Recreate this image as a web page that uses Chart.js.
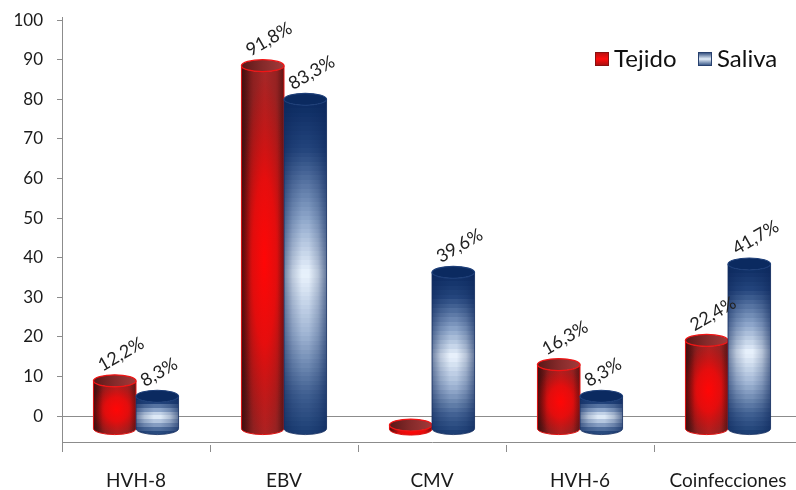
<!DOCTYPE html>
<html>
<head>
<meta charset="utf-8">
<script src="https://cdn.jsdelivr.net/npm/chart.js@4/dist/chart.umd.min.js"></script>
<style>
  html, body { margin: 0; padding: 0; background: #fff; width: 796px; height: 490px; overflow: hidden; }
  #wrap { width: 802px; height: 490px; }
</style>
</head>
<body>
<div id="wrap"><canvas id="chart" width="802" height="490"></canvas></div>
<script>
// Detección viral por tipo de muestra (%)
const categories = ['HVH-8', 'EBV', 'CMV', 'HVH-6', 'Coinfecciones'];
const seriesNames = ['Tejido', 'Saliva'];
const tejido = [12.2, 91.8, 0, 16.3, 22.4];
const saliva = [8.3, 83.3, 39.6, 8.3, 41.7];
const yTickValues = [0, 10, 20, 30, 40, 50, 60, 70, 80, 90, 100];

// Axis extents: the 3D floor sits a little below zero
const Y_MIN = -7.3;
const Y_MAX = 100.8;
const FLOOR = -6.6;

const FONT = 'Lato, "Open Sans", sans-serif';
const DEPTH = 13;   // downward shift of the cylinders (3D depth)
const RY = 6;       // vertical radius of the cylinder ellipses

function fmtPct(v) { return v.toFixed(1).replace('.', ',') + '%'; }

function hexToRgb(h) {
  const n = parseInt(h.slice(1), 16);
  return [(n >> 16) & 255, (n >> 8) & 255, n & 255];
}
function interpStops(stops, t) {
  for (let i = 0; i < stops.length - 1; i++) {
    const [t0, c0] = stops[i], [t1, c1] = stops[i + 1];
    if (t >= t0 && t <= t1) {
      const k = (t - t0) / (t1 - t0);
      const a = hexToRgb(c0), b = hexToRgb(c1);
      return 'rgb(' + a.map((v, j) => Math.round(v + (b[j] - v) * k)).join(',') + ')';
    }
  }
  return stops[stops.length - 1][1];
}
function bandedGradient(ctx, y0, y1, stops, bands) {
  const g = ctx.createLinearGradient(0, y0, 0, y1);
  for (let i = 0; i < bands; i++) {
    const t0 = i / bands, t1 = (i + 1) / bands;
    const col = interpStops(stops, (t0 + t1) / 2);
    g.addColorStop(t0, col);
    g.addColorStop(t1, col);
  }
  return g;
}

function sidePath(ctx, cx, rx, topY, botY, ry) {
  ctx.beginPath();
  ctx.moveTo(cx - rx, topY);
  ctx.lineTo(cx - rx, botY);
  ctx.ellipse(cx, botY, rx, ry, 0, Math.PI, 0, true);
  ctx.lineTo(cx + rx, topY);
  ctx.ellipse(cx, topY, rx, ry, 0, 0, Math.PI, false);
  ctx.closePath();
}

function drawRedCylinder(ctx, cx, w, topY, botY, ry) {
  const rx = w / 2, left = cx - rx;
  const h = botY - topY + ry;
  ctx.save();
  sidePath(ctx, cx, rx, topY, botY, ry);
  ctx.clip();
  // maroon body, darker at the left edge
  let g = ctx.createLinearGradient(left, 0, left + w, 0);
  g.addColorStop(0, '#4e1111');
  g.addColorStop(0.28, '#8e2020');
  g.addColorStop(0.55, '#a82626');
  g.addColorStop(0.8, '#982222');
  g.addColorStop(1, '#6e1a1a');
  ctx.fillStyle = g;
  ctx.fillRect(left - 2, topY - ry - 2, w + 4, h + ry + 6);
  // bright red glow around the middle
  const midY = topY + (botY + ry - topY) * 0.53;
  ctx.save();
  ctx.translate(cx + w * 0.04, midY);
  const R = w * 0.62;
  ctx.scale(1, Math.max(1, (h * 0.5) / R));
  const rg = ctx.createRadialGradient(0, 0, 0, 0, 0, R);
  rg.addColorStop(0, 'rgba(255,6,6,1)');
  rg.addColorStop(0.45, 'rgba(245,8,8,0.8)');
  rg.addColorStop(0.8, 'rgba(225,6,6,0.3)');
  rg.addColorStop(1, 'rgba(220,0,0,0)');
  ctx.fillStyle = rg;
  ctx.fillRect(-w, -R * 1.2, w * 2, R * 2.4);
  ctx.restore();
  // soft shading along both edges
  g = ctx.createLinearGradient(left, 0, left + w, 0);
  g.addColorStop(0, 'rgba(50,8,8,0.45)');
  g.addColorStop(0.22, 'rgba(50,8,8,0)');
  g.addColorStop(0.85, 'rgba(60,8,8,0)');
  g.addColorStop(1, 'rgba(60,8,8,0.3)');
  ctx.fillStyle = g;
  ctx.fillRect(left - 2, topY - ry - 2, w + 4, h + ry + 6);
  ctx.restore();
  // outline of the side
  ctx.save();
  ctx.strokeStyle = '#e01212';
  ctx.lineWidth = 1;
  ctx.beginPath();
  ctx.moveTo(cx - rx, topY);
  ctx.lineTo(cx - rx, botY);
  ctx.ellipse(cx, botY, rx, ry, 0, Math.PI, 0, true);
  ctx.lineTo(cx + rx, topY);
  ctx.stroke();
  // top face
  ctx.beginPath();
  ctx.ellipse(cx, topY, rx, ry, 0, 0, Math.PI * 2);
  g = ctx.createLinearGradient(left, 0, left + w, 0);
  g.addColorStop(0, '#5a1818');
  g.addColorStop(0.5, '#852a2a');
  g.addColorStop(1, '#a23a3a');
  ctx.fillStyle = g;
  ctx.fill();
  ctx.strokeStyle = '#f21414';
  ctx.lineWidth = 1.3;
  ctx.stroke();
  ctx.restore();
}

const BLUE_STOPS = [
  [0, '#0b2a60'], [0.15, '#23447c'], [0.35, '#8aa3c8'], [0.52, '#eaf3fd'],
  [0.7, '#9fb4d3'], [0.88, '#3f5f91'], [1, '#1a3c72']
];

function drawBlueCylinder(ctx, cx, w, topY, botY, ry) {
  const rx = w / 2, left = cx - rx;
  const h = botY - topY + ry;
  ctx.save();
  sidePath(ctx, cx, rx, topY, botY, ry);
  ctx.clip();
  const bands = Math.max(10, Math.round(h / 4.5));
  ctx.fillStyle = bandedGradient(ctx, topY, botY + ry, BLUE_STOPS, bands);
  ctx.fillRect(left - 2, topY - ry - 2, w + 4, h + ry + 6);
  const g = ctx.createLinearGradient(left, 0, left + w, 0);
  g.addColorStop(0, 'rgba(12,38,90,0.55)');
  g.addColorStop(0.2, 'rgba(12,38,90,0.2)');
  g.addColorStop(0.42, 'rgba(12,38,90,0.0)');
  g.addColorStop(0.58, 'rgba(12,38,90,0.0)');
  g.addColorStop(0.8, 'rgba(12,38,90,0.22)');
  g.addColorStop(1, 'rgba(12,38,90,0.6)');
  ctx.fillStyle = g;
  ctx.fillRect(left - 2, topY - ry - 2, w + 4, h + ry + 6);
  ctx.restore();
  ctx.save();
  ctx.strokeStyle = 'rgba(20,45,95,0.8)';
  ctx.lineWidth = 1;
  ctx.beginPath();
  ctx.moveTo(cx - rx, topY);
  ctx.lineTo(cx - rx, botY);
  ctx.ellipse(cx, botY, rx, ry, 0, Math.PI, 0, true);
  ctx.lineTo(cx + rx, topY);
  ctx.stroke();
  ctx.beginPath();
  ctx.ellipse(cx, topY, rx, ry, 0, 0, Math.PI * 2);
  ctx.fillStyle = '#0b2a60';
  ctx.fill();
  ctx.strokeStyle = '#1d3e78';
  ctx.lineWidth = 1.2;
  ctx.stroke();
  ctx.restore();
}

const cylinderPlugin = {
  id: 'cylinders',
  afterDatasetsDraw(chart) {
    const ctx = chart.ctx;
    chart.data.datasets.forEach((ds, di) => {
      const meta = chart.getDatasetMeta(di);
      meta.data.forEach((el, i) => {
        const p = el.getProps(['x', 'y', 'base', 'width'], true);
        const botY = p.base + DEPTH;
        const topY = Math.min(p.y + DEPTH, botY - 4);
        if (di === 0) drawRedCylinder(ctx, p.x, p.width, topY, botY, RY);
        else drawBlueCylinder(ctx, p.x, p.width, topY, botY, RY);
      });
    });
    // value labels, tilted
    ctx.save();
    ctx.font = '18px ' + FONT;
    ctx.fillStyle = '#222';
    ctx.textAlign = 'left';
    ctx.textBaseline = 'alphabetic';
    chart.data.datasets.forEach((ds, di) => {
      const meta = chart.getDatasetMeta(di);
      meta.data.forEach((el, i) => {
        const v = ds.data[i];
        if (!v) return;
        const p = el.getProps(['x', 'y', 'width'], true);
        const tx = p.x - p.width / 2 + 9;
        const ty = p.y + DEPTH - RY - 3;
        ctx.save();
        ctx.translate(tx, ty);
        ctx.rotate(-Math.PI / 6);
        ctx.fillText(fmtPct(v), 0, 0);
        ctx.restore();
      });
    });
    ctx.restore();
    // legend
    ctx.save();
    ctx.font = '24px ' + FONT;
    ctx.fillStyle = '#111';
    ctx.textBaseline = 'alphabetic';
    const items = [
      { x: 595, text: seriesNames[0], kind: 0 },
      { x: 698, text: seriesNames[1], kind: 1 }
    ];
    items.forEach(it => {
      const sy = 52, s = 14;
      let g = ctx.createLinearGradient(0, sy, 0, sy + s);
      if (it.kind === 0) {
        g.addColorStop(0, '#b01010'); g.addColorStop(0.5, '#ff0d0d'); g.addColorStop(1, '#a01010');
      } else {
        g.addColorStop(0, '#1d3c70'); g.addColorStop(0.5, '#e4eef9'); g.addColorStop(1, '#23457a');
      }
      ctx.fillStyle = g;
      ctx.fillRect(it.x, sy, s, s);
      ctx.strokeStyle = it.kind === 0 ? '#8a1010' : '#27406e';
      ctx.lineWidth = 1;
      ctx.strokeRect(it.x + 0.5, sy + 0.5, s - 1, s - 1);
      ctx.fillStyle = '#111';
      ctx.fillText(it.text, it.x + 19, 67);
    });
    ctx.restore();
  }
};

new Chart(document.getElementById('chart'), {
  type: 'bar',
  data: {
    labels: categories,
    datasets: [
      { label: seriesNames[0], data: tejido, backgroundColor: 'rgba(0,0,0,0)', borderWidth: 0 },
      { label: seriesNames[1], data: saliva, backgroundColor: 'rgba(0,0,0,0)', borderWidth: 0 }
    ]
  },
  options: {
    responsive: false,
    animation: false,
    events: [],
    layout: { padding: { top: 17, left: 0, right: 0, bottom: 0 } },
    datasets: { bar: { categoryPercentage: 0.575, barPercentage: 1 } },
    plugins: { legend: { display: false }, tooltip: { enabled: false } },
    scales: {
      x: {
        afterFit(scale) { scale.height = 45; scale.paddingLeft = 0; scale.paddingRight = 0; },
        border: { display: false },
        grid: { offset: true, drawOnChartArea: false, color: '#8c8c8c', tickLength: 7, lineWidth: 1 },
        ticks: { color: '#1a1a1a', font: { family: FONT, size: 19 }, padding: 17 }
      },
      y: {
        min: Y_MIN,
        max: Y_MAX,
        afterFit(scale) { scale.width = 62; scale.paddingTop = 0; scale.paddingBottom = 0; },
        afterBuildTicks(scale) {
          scale.ticks = [FLOOR].concat(yTickValues).map(v => ({ value: v }));
        },
        border: { display: true, color: '#8c8c8c', width: 1 },
        grid: {
          drawOnChartArea: true,
          tickLength: 5,
          color: ctx => (ctx.tick && (ctx.tick.value === 0 || ctx.tick.value === FLOOR)) ? '#8c8c8c' : 'rgba(0,0,0,0)',
          tickColor: ctx => (ctx.tick && ctx.tick.value !== FLOOR) ? '#8c8c8c' : 'rgba(0,0,0,0)'
        },
        ticks: {
          color: '#1a1a1a',
          font: { family: FONT, size: 17 },
          padding: 14,
          autoSkip: false,
          callback: v => (v === FLOOR ? '' : String(v))
        }
      }
    }
  },
  plugins: [cylinderPlugin]
});
</script>
</body>
</html>
